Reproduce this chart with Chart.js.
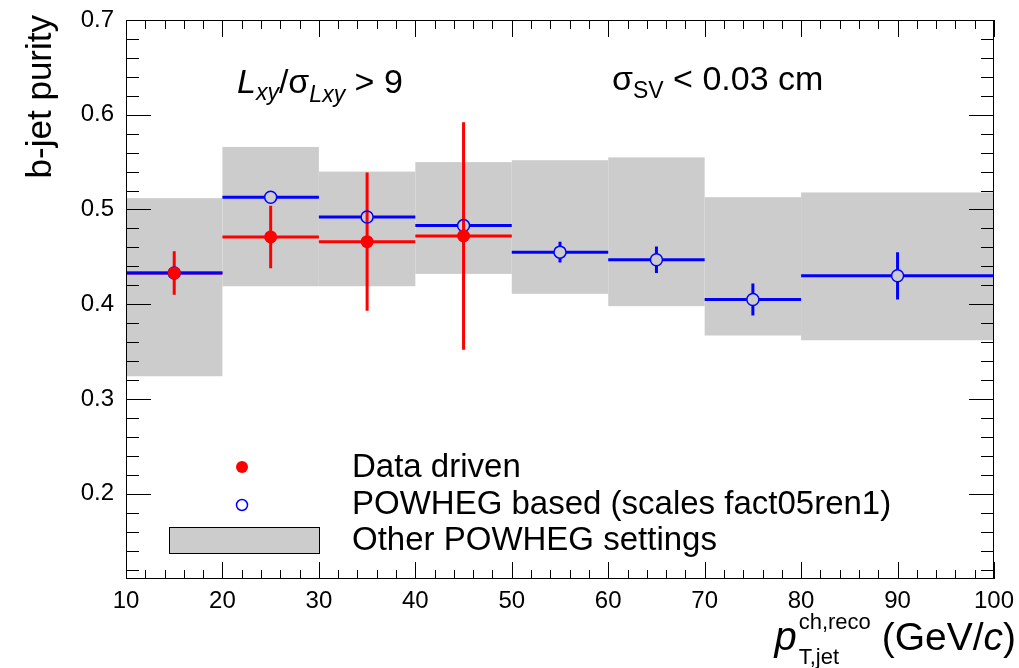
<!DOCTYPE html>
<html>
<head>
<meta charset="utf-8">
<script src="https://cdn.jsdelivr.net/npm/chart.js@4.4.1/dist/chart.umd.min.js"></script>
<style>
  html, body { margin: 0; padding: 0; background: #fff; }
  #wrap { width: 1019px; height: 668px; }
</style>
</head>
<body>
<div id="wrap"><canvas id="purity" width="1019" height="668"></canvas></div>
<script>
// b-jet purity vs pT,jet: data driven vs POWHEG

const binLow  = [10, 20, 30, 40, 50, 60, 70, 80];
const binHigh = [20, 30, 40, 50, 60, 70, 80, 100];
const bandLow  = [0.324, 0.419, 0.419, 0.432, 0.411, 0.398, 0.367, 0.362];
const bandHigh = [0.512, 0.566, 0.540, 0.550, 0.552, 0.555, 0.513, 0.518];

const powhegX   = [15, 25, 35, 45, 55, 65, 75, 90];
const powhegY   = [0.433, 0.513, 0.492, 0.483, 0.455, 0.447, 0.405, 0.430];
const powhegErr = [0.005, 0.006, 0.006, 0.006, 0.011, 0.014, 0.017, 0.025];

const dataX   = [15, 25, 35, 45];
const dataY   = [0.433, 0.471, 0.466, 0.472];
const dataErr = [0.023, 0.033, 0.073, 0.120];

const xTicks = [10, 20, 30, 40, 50, 60, 70, 80, 90, 100];
const yTicks = [0.2, 0.3, 0.4, 0.5, 0.6, 0.7];

const legendLabels = ['Data driven', 'POWHEG based (scales fact05ren1)', 'Other POWHEG settings'];

const FONT = '"Liberation Sans", Arial, Helvetica, sans-serif';
const GRAY = '#cccccc';
const RED = '#ff0000';
const BLUE = '#0000ff';
const MARKER_R = 6;

// draw a run of text pieces: [text, size, italic, dy]
function drawRuns(ctx, x, y, runs) {
  let cx = x;
  runs.forEach(r => {
    ctx.font = (r[2] ? 'italic ' : '') + r[1] + 'px ' + FONT;
    ctx.fillText(r[0], cx, y + (r[3] || 0));
    cx += ctx.measureText(r[0]).width;
  });
  return cx;
}

const rootStyle = {
  id: 'rootStyle',
  beforeDatasetsDraw(chart) {
    const { ctx, scales: { x, y } } = chart;
    ctx.save();
    // systematic band
    ctx.fillStyle = GRAY;
    binLow.forEach((lo, i) => {
      const x0 = x.getPixelForValue(lo), x1 = x.getPixelForValue(binHigh[i]);
      const y0 = y.getPixelForValue(bandHigh[i]), y1 = y.getPixelForValue(bandLow[i]);
      ctx.fillRect(x0, y0, x1 - x0, y1 - y0);
    });
    ctx.lineWidth = 3;
    ctx.lineCap = 'butt';
    // data driven error bars (through the filled marker)
    ctx.strokeStyle = RED;
    dataX.forEach((v, i) => {
      const px = x.getPixelForValue(v), py = y.getPixelForValue(dataY[i]);
      ctx.beginPath();
      ctx.moveTo(x.getPixelForValue(binLow[i]), py);
      ctx.lineTo(x.getPixelForValue(binHigh[i]), py);
      ctx.moveTo(px, y.getPixelForValue(dataY[i] + dataErr[i]));
      ctx.lineTo(px, y.getPixelForValue(dataY[i] - dataErr[i]));
      ctx.stroke();
    });
    // powheg error bars, stopped at the open marker
    ctx.strokeStyle = BLUE;
    powhegX.forEach((v, i) => {
      const px = x.getPixelForValue(v), py = y.getPixelForValue(powhegY[i]);
      const top = y.getPixelForValue(powhegY[i] + powhegErr[i]);
      const bot = y.getPixelForValue(powhegY[i] - powhegErr[i]);
      ctx.beginPath();
      ctx.moveTo(x.getPixelForValue(binLow[i]), py);
      ctx.lineTo(px - MARKER_R, py);
      ctx.moveTo(px + MARKER_R, py);
      ctx.lineTo(x.getPixelForValue(binHigh[i]), py);
      if (py - top > MARKER_R) {
        ctx.moveTo(px, top); ctx.lineTo(px, py - MARKER_R);
        ctx.moveTo(px, py + MARKER_R); ctx.lineTo(px, bot);
      }
      ctx.stroke();
    });
    ctx.restore();
  },
  afterDraw(chart) {
    const { ctx, chartArea: a, scales: { x, y } } = chart;
    ctx.save();
    ctx.strokeStyle = '#000';
    ctx.fillStyle = '#000';
    ctx.lineWidth = 1;
    // frame
    ctx.strokeRect(a.left + 0.5, a.top + 0.5, a.right - a.left - 1, a.bottom - a.top - 1);

    // ticks inside, all four sides
    ctx.beginPath();
    for (let v = 10; v <= 100.001; v += 2) {
      const px = Math.round(x.getPixelForValue(v)) + 0.5;
      const len = Math.abs(v % 10) < 0.01 ? 17 : 9;
      ctx.moveTo(px, a.bottom); ctx.lineTo(px, a.bottom - len);
      ctx.moveTo(px, a.top); ctx.lineTo(px, a.top + len);
    }
    for (let k = 6; k <= 35; k++) {
      const v = k * 0.02;
      if (v < 0.11 || v > 0.7001) continue;
      const py = Math.round(y.getPixelForValue(v)) + 0.5;
      const len = k % 5 === 0 ? 25 : 13;
      ctx.moveTo(a.left, py); ctx.lineTo(a.left + len, py);
      ctx.moveTo(a.right, py); ctx.lineTo(a.right - len, py);
    }
    ctx.stroke();

    // tick labels
    ctx.font = '24px ' + FONT;
    ctx.textBaseline = 'middle';
    ctx.textAlign = 'right';
    yTicks.forEach(v => ctx.fillText(v.toFixed(1), a.left - 12, y.getPixelForValue(v)));
    ctx.textAlign = 'center';
    ctx.textBaseline = 'top';
    xTicks.forEach(v => ctx.fillText(String(v), x.getPixelForValue(v), a.bottom + 10));

    // y title
    ctx.save();
    ctx.translate(51, 15);
    ctx.rotate(-Math.PI / 2);
    ctx.textAlign = 'right';
    ctx.textBaseline = 'alphabetic';
    ctx.font = '35px ' + FONT;
    ctx.fillText('b-jet purity', 0, 0);
    ctx.restore();

    // x title: p_{T,jet}^{ch,reco} (GeV/c)
    ctx.textAlign = 'left';
    ctx.textBaseline = 'alphabetic';
    const base = 650;
    ctx.font = '39px ' + FONT;
    const wTail = ctx.measureText(' (GeV/').width + ctx.measureText(')').width;
    ctx.font = 'italic 39px ' + FONT;
    const wc = ctx.measureText('c').width;
    const tailX = 1016 - wTail - wc;
    drawRuns(ctx, tailX, base, [[' (GeV/', 39, false], ['c', 39, true], [')', 39, false]]);
    ctx.font = '22px ' + FONT;
    const wSup = ctx.measureText('ch,reco').width;
    const scriptX = tailX - wSup;
    ctx.fillText('ch,reco', scriptX, base - 21);
    ctx.fillText('T,jet', scriptX, base + 14);
    ctx.font = 'italic 40px ' + FONT;
    ctx.fillText('p', scriptX - ctx.measureText('p').width - 2, base);

    // annotations
    drawRuns(ctx, 237, 93, [
      ['L', 34, true], ['xy', 23, true, 7], ['/', 34, false], ['σ', 34, false],
      ['Lxy', 23, true, 9], [' > 9', 34, false]
    ]);
    drawRuns(ctx, 612, 90, [['σ', 34, false], ['SV', 23, false, 8], [' < 0.03 cm', 34, false]]);

    // legend
    ctx.font = '33px ' + FONT;
    ctx.fillText(legendLabels[0], 352, 477);
    ctx.fillText(legendLabels[1], 352, 514);
    ctx.fillText(legendLabels[2], 352, 550);
    ctx.fillStyle = RED;
    ctx.beginPath(); ctx.arc(242, 467, 6, 0, Math.PI * 2); ctx.fill();
    ctx.strokeStyle = BLUE; ctx.lineWidth = 1.5;
    ctx.beginPath(); ctx.arc(242, 505, 5.5, 0, Math.PI * 2); ctx.stroke();
    ctx.fillStyle = GRAY;
    ctx.fillRect(169, 527, 150, 26);
    ctx.strokeStyle = '#000'; ctx.lineWidth = 1;
    ctx.strokeRect(169.5, 527.5, 150, 26);
    ctx.restore();
  }
};

const ctx = document.getElementById('purity').getContext('2d');
new Chart(ctx, {
  type: 'scatter',
  data: {
    datasets: [
      {
        label: legendLabels[0],
        data: dataX.map((v, i) => ({ x: v, y: dataY[i] })),
        pointRadius: 6.5,
        pointBackgroundColor: RED,
        pointBorderColor: RED,
        pointBorderWidth: 0,
        order: 0
      },
      {
        label: legendLabels[1],
        data: powhegX.map((v, i) => ({ x: v, y: powhegY[i] })),
        pointRadius: MARKER_R,
        pointBackgroundColor: 'rgba(0,0,0,0)',
        pointBorderColor: BLUE,
        pointBorderWidth: 1.5,
        order: 1
      }
    ]
  },
  options: {
    responsive: false,
    animation: false,
    layout: { padding: { top: 20, right: 25, left: 0, bottom: 0 } },
    plugins: { legend: { display: false }, tooltip: { enabled: false } },
    scales: {
      x: {
        type: 'linear', min: 10, max: 100,
        grid: { display: false }, border: { display: false },
        ticks: { display: false, stepSize: 10 },
        afterFit: s => { s.height = 89; }
      },
      y: {
        type: 'linear', min: 0.11, max: 0.7,
        grid: { display: false }, border: { display: false },
        ticks: { display: false, stepSize: 0.1 },
        afterFit: s => { s.width = 126; }
      }
    }
  },
  plugins: [rootStyle]
});
</script>
</body>
</html>
